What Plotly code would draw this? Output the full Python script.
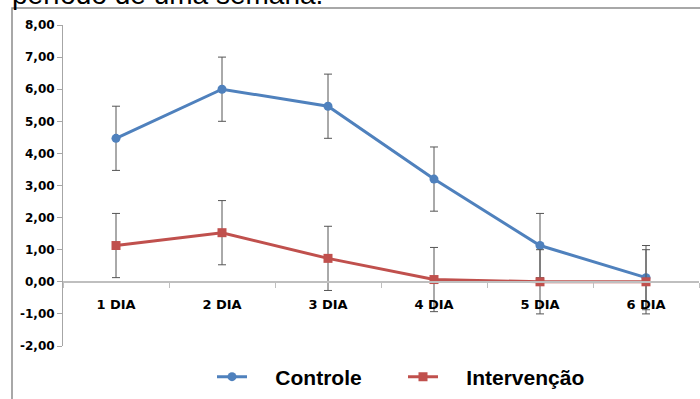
import plotly.graph_objects as go

categories = ["1 DIA", "2 DIA", "3 DIA", "4 DIA", "5 DIA", "6 DIA"]
controle = [4.47, 6.00, 5.47, 3.20, 1.13, 0.13]
controle_err = [1.0, 1.0, 1.0, 1.0, 1.0, 1.0]
intervencao = [1.13, 1.53, 0.73, 0.07, 0.00, 0.00]
intervencao_err = [1.0, 1.0, 1.0, 1.0, 1.0, 1.0]
y_ticks = [8, 7, 6, 5, 4, 3, 2, 1, 0, -1, -2]
y_labels = ["8,00", "7,00", "6,00", "5,00", "4,00", "3,00", "2,00", "1,00", "0,00", "-1,00", "-2,00"]

W, H = 700, 399
L, R, T, B = 63, 1, 25, 53
pw = W - L - R
ph = H - T - B
ymin, ymax = -2, 8
zero_frac = (0 - ymin) / (ymax - ymin)

err_style = dict(type="data", thickness=1, width=4, color="#555555")
tick_font = "DejaVu Sans, sans-serif"
text_font = "Liberation Sans, Arial, sans-serif"
pad = "\u00a0" * 4  # gap between legend symbol and legend text

fig = go.Figure()
fig.add_trace(go.Scatter(
    x=categories, y=controle, name=pad + "Controle", mode="lines+markers",
    line=dict(color="#4F81BD", width=3),
    marker=dict(symbol="circle", size=9, color="#4F81BD"),
    error_y=dict(array=controle_err, **err_style),
))
fig.add_trace(go.Scatter(
    x=categories, y=intervencao, name=pad + "Intervenção", mode="lines+markers",
    line=dict(color="#C0504D", width=3),
    marker=dict(symbol="square", size=9, color="#C0504D"),
    error_y=dict(array=intervencao_err, **err_style),
))

fig.update_layout(
    width=W, height=H,
    margin=dict(l=L, r=R, t=T, b=B, pad=0, autoexpand=False),
    paper_bgcolor="white", plot_bgcolor="white",
    font=dict(family=text_font, color="black"),
    showlegend=True,
    legend=dict(orientation="h", x=(212 - L) / pw, xanchor="left",
                y=-31 / ph, yanchor="middle",
                font=dict(size=21, family=text_font, color="black", weight="bold"),
                entrywidth=146, itemwidth=30, bgcolor="rgba(0,0,0,0)"),
    xaxis=dict(
        type="category", range=[-0.5, 5.5], anchor="free", position=zero_frac,
        showline=True, linecolor="#BFBFBF", linewidth=1.5,
        ticks="outside", tickson="boundaries", ticklen=5, tickcolor="#BFBFBF",
        ticklabelstandoff=11,
        tickfont=dict(size=13, weight="bold", family=tick_font),
        showgrid=False, zeroline=False,
    ),
    yaxis=dict(
        range=[ymin, ymax], tickvals=y_ticks, ticktext=y_labels,
        showline=True, linecolor="#A6A6A6", linewidth=1,
        ticks="outside", ticklen=5, tickcolor="#A6A6A6",
        tickfont=dict(size=12, weight="bold", family=tick_font),
        showgrid=False, zeroline=False, domain=[0, 1],
    ),
)

# outer chart frame (partially visible)
fig.add_shape(type="rect", xref="paper", yref="paper",
              x0=(12 - L) / pw, x1=1.2,
              y0=-0.5, y1=(H - B - 8) / ph,
              line=dict(color="#8C8C8C", width=1.5), layer="below")

# clipped caption text above the chart
fig.add_annotation(text="período de uma semana.", xref="paper", yref="paper",
                   x=(10 - L) / pw, xanchor="left",
                   y=(H - B - 12) / ph, yanchor="bottom",
                   showarrow=False, font=dict(size=28, color="black", family=text_font))

fig.write_html("out.html", config={"displayModeBar": False},
               post_script="document.body.style.margin='0';")
